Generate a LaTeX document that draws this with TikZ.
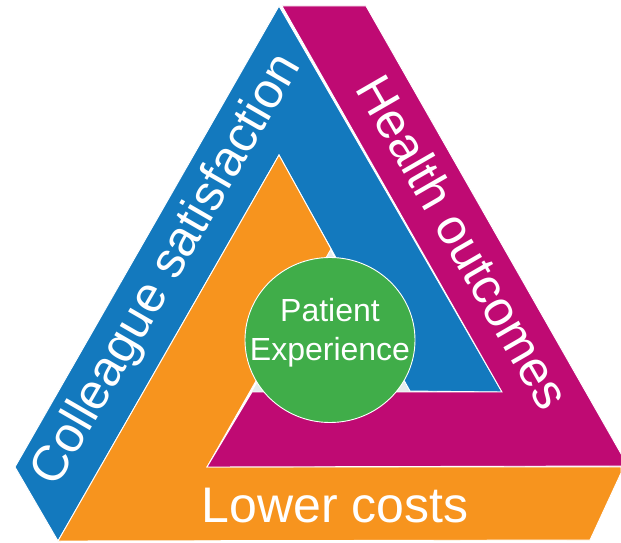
\documentclass[tikz,border=0pt]{standalone}
\usepackage{fontspec}
\usetikzlibrary{shapes.geometric}
\setmainfont{Liberation Sans}
\definecolor{cblue}{HTML}{1379BE}
\definecolor{cmag}{HTML}{BF0A73}
\definecolor{corange}{HTML}{F7941E}
\definecolor{cgreen}{HTML}{40AD49}
\definecolor{cgap}{HTML}{E6ECEC}
\tikzset{
  band/.style={draw=white,line width=0.9pt,line join=miter},
  bandlabel/.style={text=white,inner sep=0pt,anchor=base,font=\fontsize{50}{50}\selectfont},
  hublabel/.style={text=white,inner sep=0pt,anchor=base,font=\fontsize{32}{32}\selectfont}
}
\begin{document}
\begin{tikzpicture}[x=1pt,y=-1pt]
\useasboundingbox (0,0) rectangle (621,543);
\begin{scope}
\clip (0,0) rectangle (621,543);
% inner gap
\fill[cgap] (330,250) -- (252,392) -- (410,392) -- cycle;
% bands
\filldraw[band,fill=cblue] (279,6) -- (502,392) -- (410,391) -- (279,155) -- (58,541) -- (15,467) -- cycle;
\filldraw[band,fill=corange] (279,155) -- (331,249) -- (207,467) -- (621,467) -- (621,473) -- (590,540) -- (58,541) -- cycle;
\filldraw[band,fill=cmag] (282,6) -- (366,6) -- (628,466) -- (207,467) -- (252,392) -- (502,392) -- cycle;
\end{scope}
% hub
\node[draw=white,line width=0.9pt,fill=cgreen,ellipse,inner sep=0pt,minimum width=170pt,minimum height=165pt] (hub) at (330,340) {};
\node[hublabel] (patient) at (330,321) {Patient};
\node[hublabel] (experience) at (330,360) {Experience};
\node[bandlabel,rotate=60] (colleague) at (179,277) {Colleague satisfaction};
\node[bandlabel,rotate=-60] (health) at (448,251) {Health outcomes};
\node[bandlabel] (costs) at (335,522) {Lower costs};
\end{tikzpicture}
\end{document}
